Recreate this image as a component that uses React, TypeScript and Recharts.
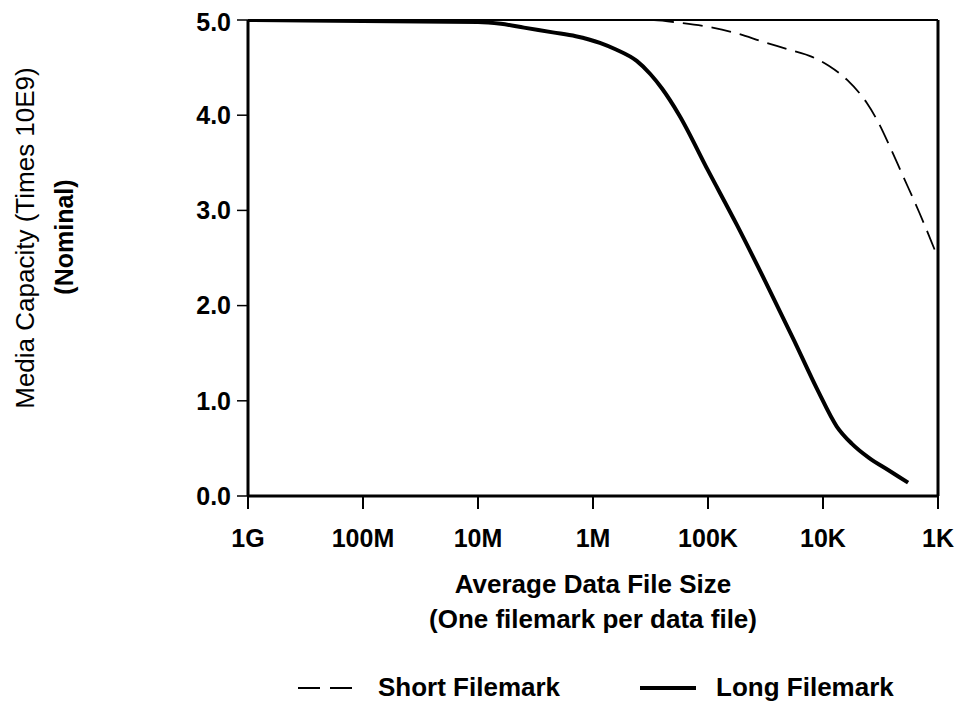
import { LineChart, Line, XAxis, YAxis, ReferenceLine, Legend } from 'recharts';

// x is measured in decades from 1G (0 = 1G, 6 = 1K)
const sizeLabels = ['1G', '100M', '10M', '1M', '100K', '10K', '1K'];
const sizeTicks = [0, 1, 2, 3, 4, 5, 6];
const capacityTicks = [0, 1, 2, 3, 4, 5];

const longDecades = [0, 1, 2, 2.2, 2.4, 2.65, 2.85, 3.06, 3.2, 3.38, 3.5, 3.6, 3.75, 4.0, 4.25, 4.5, 4.75, 4.95, 5.12, 5.25, 5.4, 5.57, 5.74];
const longCapacity = [5.0, 4.99, 4.98, 4.96, 4.92, 4.87, 4.83, 4.76, 4.69, 4.57, 4.43, 4.28, 4.0, 3.42, 2.85, 2.25, 1.63, 1.12, 0.73, 0.55, 0.4, 0.27, 0.14];

const shortDecades = [0, 1, 2, 3, 3.5, 3.76, 4.04, 4.25, 4.48, 4.7, 4.91, 5.05, 5.21, 5.38, 5.47, 5.6, 5.7, 5.84, 6.0];
const shortCapacity = [5.0, 5.0, 5.0, 5.0, 5.0, 4.97, 4.92, 4.86, 4.77, 4.69, 4.61, 4.52, 4.37, 4.13, 3.95, 3.62, 3.35, 2.97, 2.5];

const longData = longDecades.map((x, i) => ({ x, y: longCapacity[i] }));
const shortData = shortDecades.map((x, i) => ({ x, y: shortCapacity[i] }));

const FONT = "'Liberation Sans', Arial, sans-serif";

function XTitle(props: any) {
  const vb = props.viewBox || {};
  const cx = (vb.x ?? 240) + (vb.width ?? 690) / 2;
  return (
    <g>
      <text x={cx} y={585} textAnchor="middle" fontFamily={FONT} fontWeight="bold" fontSize={26} fill="#000">
        Average Data File Size
      </text>
      <text x={cx} y={620} textAnchor="middle" fontFamily={FONT} fontWeight="bold" fontSize={26} fill="#000">
        (One filemark per data file)
      </text>
    </g>
  );
}

function YTitle() {
  return (
    <g>
      <text x={26} y={230} transform="rotate(-90, 26, 230)" textAnchor="middle" fontFamily={FONT} fontSize={26} fill="#000">
        Media Capacity (Times 10E9)
      </text>
      <text x={65} y={229} transform="rotate(-90, 65, 229)" textAnchor="middle" fontFamily={FONT} fontWeight="bold" fontSize={25} fill="#000">
        (Nominal)
      </text>
    </g>
  );
}

function LegendContent() {
  const item = { display: 'flex', alignItems: 'center' } as const;
  const label = { fontFamily: FONT, fontWeight: 'bold' as const, fontSize: 26, color: '#000' };
  return (
    <div style={{ display: 'flex', alignItems: 'center' }}>
      <div style={item}>
        <svg width={60} height={10}>
          <line x1={0} y1={5} x2={60} y2={5} stroke="#000" strokeWidth={2} strokeDasharray="22 10" />
        </svg>
        <span style={{ ...label, marginLeft: 20 }}>Short Filemark</span>
      </div>
      <div style={{ ...item, marginLeft: 80 }}>
        <svg width={56} height={10}>
          <line x1={0} y1={5} x2={56} y2={5} stroke="#000" strokeWidth={4} />
        </svg>
        <span style={{ ...label, marginLeft: 20 }}>Long Filemark</span>
      </div>
    </div>
  );
}

export default function App() {
  return (
    <div style={{ width: 952, height: 698, background: '#fff' }}>
      <LineChart width={952} height={698} margin={{ top: 12, right: 22, left: 0, bottom: 150 }}>
        <XAxis
          type="number"
          dataKey="x"
          domain={[0, 6]}
          ticks={sizeTicks}
          tickFormatter={(v: number) => sizeLabels[v]}
          height={60}
          axisLine={{ stroke: '#000', strokeWidth: 3 }}
          tickLine={{ stroke: '#000', strokeWidth: 2 }}
          tickSize={13}
          tickMargin={20}
          tick={{ fill: '#000', fontFamily: FONT, fontWeight: 'bold', fontSize: 25 }}
          allowDataOverflow
          label={{ content: XTitle }}
        />
        <YAxis
          type="number"
          domain={[0, 5]}
          ticks={capacityTicks}
          tickFormatter={(v: number) => v.toFixed(1)}
          width={240}
          axisLine={{ stroke: '#000', strokeWidth: 3 }}
          tickLine={{ stroke: '#000', strokeWidth: 1.5 }}
          tickSize={11}
          tickMargin={6}
          tick={{ fill: '#000', fontFamily: FONT, fontWeight: 'bold', fontSize: 25 }}
          allowDataOverflow
          label={{ content: YTitle }}
        />
        <ReferenceLine y={5} stroke="#000" strokeWidth={2} />
        <ReferenceLine x={6} stroke="#000" strokeWidth={3} />
        <Line
          data={shortData}
          dataKey="y"
          type="monotone"
          stroke="#000"
          strokeWidth={1.8}
          strokeDasharray="20 9"
          dot={false}
          activeDot={false}
          isAnimationActive={false}
        />
        <Line
          data={longData}
          dataKey="y"
          type="monotone"
          stroke="#000"
          strokeWidth={4}
          dot={false}
          activeDot={false}
          isAnimationActive={false}
        />
        <Legend
          layout="horizontal"
          verticalAlign="middle"
          align="center"
          content={LegendContent}
          wrapperStyle={{ top: 664, left: 290, width: 640 }}
        />
      </LineChart>
    </div>
  );
}
